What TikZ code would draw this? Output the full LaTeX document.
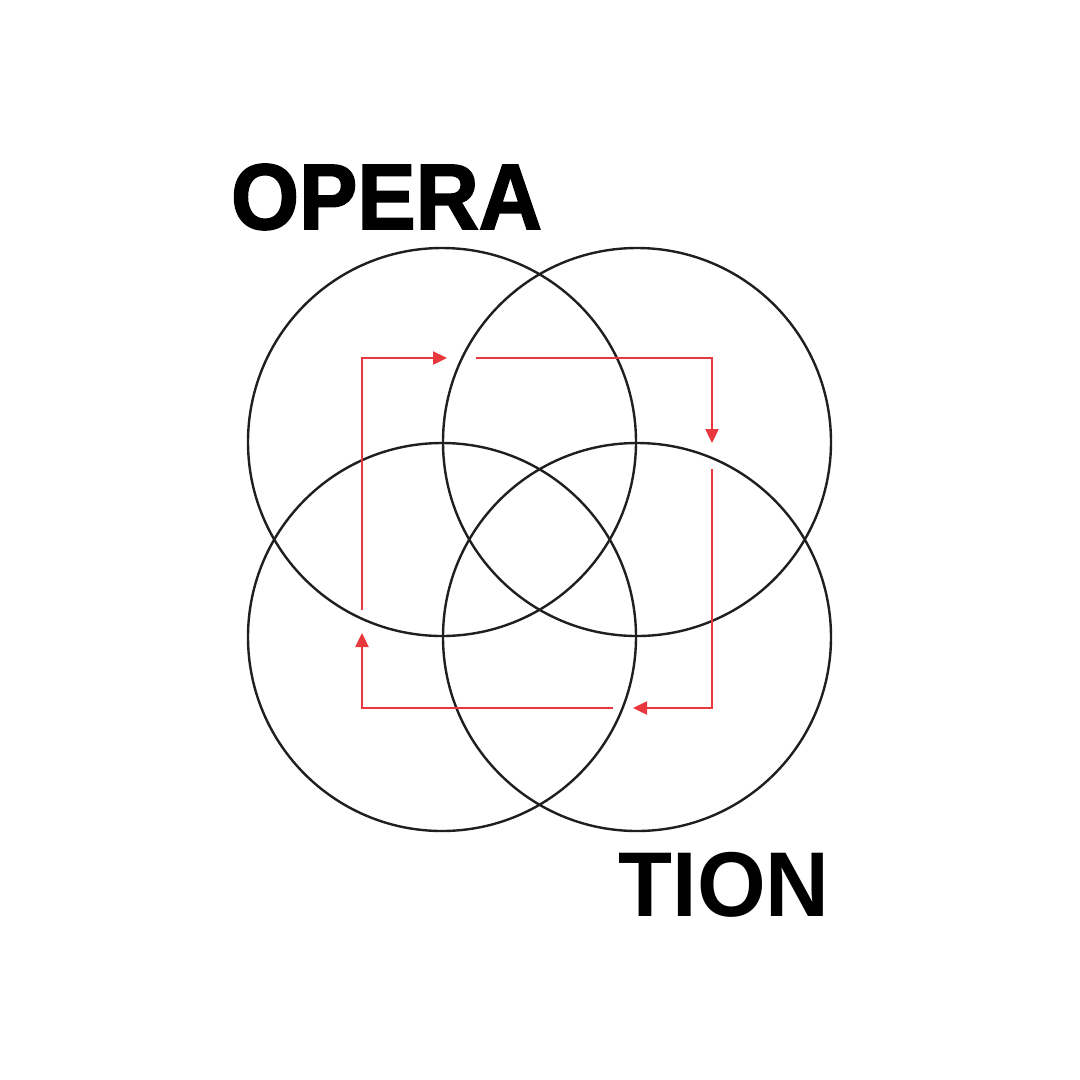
\documentclass[tikz,border=0pt]{standalone}
\usepackage{fontspec}
\newfontfamily\opfont[FakeBold=2]{Liberation Sans Bold}
\newfontfamily\tifont{Liberation Sans Bold}
\usetikzlibrary{arrows.meta}
\definecolor{flowred}{HTML}{E8383D}
\begin{document}
\begin{tikzpicture}[x=1pt,y=-1pt,
  ring/.style={draw=black!88,line width=2.4pt},
  flow/.style={draw=flowred,line width=2.4pt,-{Triangle[length=14pt,width=13pt]}},
  word/.style={inner sep=0pt,anchor=base,text=black}]
\useasboundingbox (0,0) rectangle (1080,1080);
\fill[white] (0,0) rectangle (1080,1080);
\node[circle,ring,minimum size=388pt,inner sep=0pt] (c1) at (442,442) {};
\node[circle,ring,minimum size=388pt,inner sep=0pt] (c2) at (637,442) {};
\node[circle,ring,minimum size=388pt,inner sep=0pt] (c3) at (442,637) {};
\node[circle,ring,minimum size=388pt,inner sep=0pt] (c4) at (637,637) {};
\coordinate (a0) at (362,610);
\coordinate (a1) at (362,358);
\coordinate (a2) at (447,358);
\coordinate (b0) at (476,358);
\coordinate (b1) at (712,358);
\coordinate (b2) at (712,443);
\coordinate (d0) at (712,469);
\coordinate (d1) at (712,708);
\coordinate (d2) at (633,708);
\coordinate (e0) at (613,708);
\coordinate (e1) at (362,708);
\coordinate (e2) at (362,633);
\draw[flow] (a0) -- (a1) -- (a2);
\draw[flow] (b0) -- (b1) -- (b2);
\draw[flow] (d0) -- (d1) -- (d2);
\draw[flow] (e0) -- (e1) -- (e2);
\node[word,xscale=0.94,font=\opfont\fontsize{93}{93}\selectfont] (opera) at (386.5,229) {OPERA};
\node[word,xscale=0.96,font=\tifont\fontsize{92}{92}\selectfont] (tion) at (724,916) {TION};
\end{tikzpicture}
\end{document}
